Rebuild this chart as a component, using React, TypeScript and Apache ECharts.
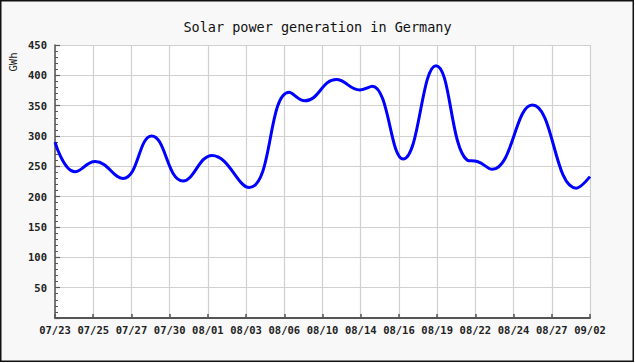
import React, { useEffect, useRef } from "react";
import * as echarts from "echarts";

const title = "Solar power generation in Germany";
const yName = "GWh";
const xLabels = [
  "07/23", "07/25", "07/27", "07/30", "08/01", "08/03", "08/06", "08/10",
  "08/14", "08/16", "08/19", "08/22", "08/24", "08/27", "09/02",
];
// positions along the label index scale (0..14) and values in GWh
const xPos = [
  0, 0.52, 1.05, 1.78, 2.53, 3.35, 4.11, 5.08, 6.13, 6.54, 7.36, 7.98, 8.3,
  9.11, 9.97, 10.79, 11.05, 11.44, 12.49, 13.64, 14,
];
const gwh = [
  290, 241, 258, 230, 300, 226, 268, 215, 372, 358, 393, 376, 382,
  262, 416, 260, 258, 245, 351, 214, 233,
];

export default function App() {
  const ref = useRef<HTMLDivElement>(null);
  useEffect(() => {
    if (!ref.current) return;
    const chart = echarts.init(ref.current, undefined, { renderer: "svg" });
    const mono = "'DejaVu Sans Mono', 'Liberation Mono', monospace";
    chart.setOption({
      animation: false,
      backgroundColor: "#f8f8f8",
      title: {
        text: title,
        left: "center",
        top: 15,
        textStyle: { fontFamily: mono, fontSize: 13.5, fontWeight: "normal", color: "#111" },
      },
      graphic: [
        {
          type: "rect",
          shape: { x: 0.75, y: 0.75, width: 632.5, height: 360.5 },
          style: { fill: "none", stroke: "#111", lineWidth: 1.5 },
          silent: true,
        },
        {
          type: "text",
          x: 13,
          y: 62,
          rotation: Math.PI / 2,
          style: {
            text: yName,
            fontFamily: mono,
            fontSize: 10.5,
            fill: "#222",
            align: "center",
            verticalAlign: "middle",
          },
        },
      ],
      grid: {
        left: 55,
        top: 45,
        width: 535,
        height: 273,
        show: true,
        backgroundColor: "#ffffff",
        borderWidth: 0,
      },
      xAxis: {
        type: "value",
        min: 0,
        max: 14,
        interval: 1,
        axisLine: { show: true, lineStyle: { color: "#555", width: 2 } },
        axisTick: { show: true, inside: true, length: 4, lineStyle: { color: "#555", width: 1.5 } },
        axisLabel: {
          margin: 6,
          fontFamily: mono,
          fontSize: 10.5,
          fontWeight: "bold",
          color: "#222",
          formatter: (v: number) => xLabels[Math.round(v)] ?? "",
        },
        splitLine: { show: true, lineStyle: { color: "#d0d0d0", width: 1.2 } },
      },
      yAxis: {
        type: "value",
        min: 0,
        max: 450,
        interval: 50,
        axisLine: { show: true, lineStyle: { color: "#555", width: 1.5 } },
        axisTick: { show: true, inside: true, length: 5, lineStyle: { color: "#555", width: 1.2 } },
        minorTick: { show: true, splitNumber: 5, length: 3, lineStyle: { color: "#555", width: 1 } },
        axisLabel: {
          margin: 8,
          fontFamily: mono,
          fontSize: 10.5,
          fontWeight: "bold",
          color: "#222",
          formatter: (v: number) => (v === 0 ? "" : String(v)),
        },
        splitLine: { show: true, lineStyle: { color: "#d0d0d0", width: 1.2 } },
      },
      series: [
        {
          type: "line",
          data: xPos.map((x, i) => [x, gwh[i]]),
          smooth: 0.45,
          showSymbol: false,
          lineStyle: { color: "#0000ff", width: 3 },
        },
      ],
    });
    return () => chart.dispose();
  }, []);
  return (
    <div
      ref={ref}
      style={{ position: "absolute", left: 0, top: 0, width: 635, height: 363 }}
    />
  );
}
